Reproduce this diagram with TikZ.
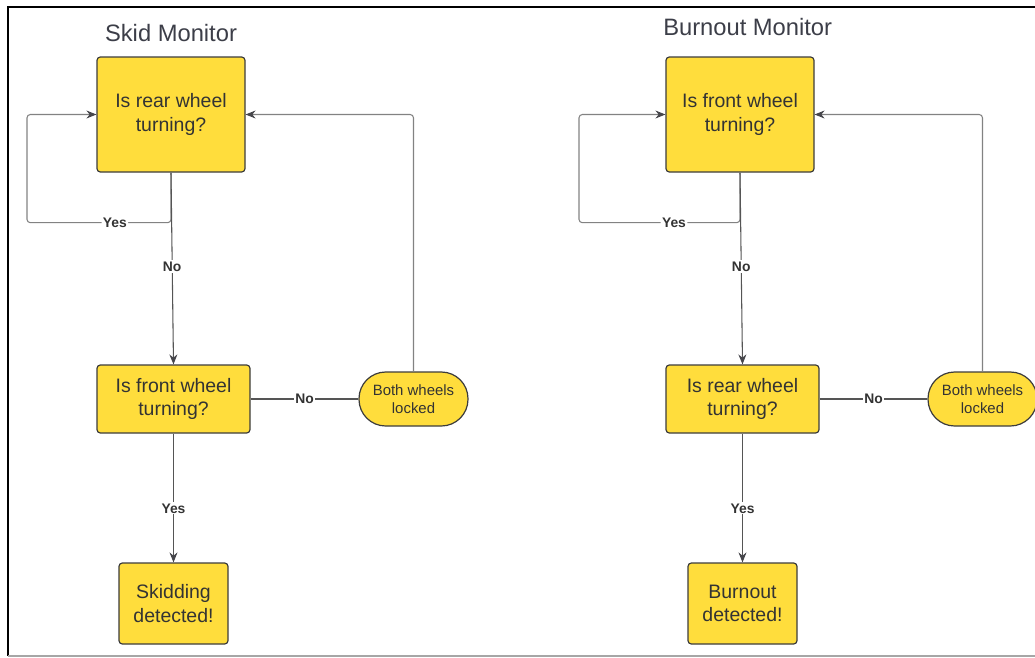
\documentclass[tikz,border=0pt]{standalone}
\usepackage{fontspec}
\setmainfont{Liberation Sans}
\usetikzlibrary{arrows.meta}
\definecolor{boxfill}{RGB}{255,221,60}
\definecolor{boxline}{RGB}{60,60,60}
\definecolor{txt}{RGB}{51,51,51}
\definecolor{conn}{RGB}{85,85,85}
\definecolor{connlight}{RGB}{130,130,130}
\definecolor{arrc}{RGB}{70,70,75}
\definecolor{titlec}{RGB}{60,62,72}
\tikzset{
  box/.style={draw=boxline, fill=boxfill, line width=0.9pt, rounded corners=2.5pt,
    align=center, text=txt, inner sep=0pt, font=\fontsize{14.6}{17.8}\selectfont},
  oval/.style={draw=boxline, fill=boxfill, line width=0.9pt, rounded corners=20pt,
    align=center, text=txt, inner sep=0pt, minimum width=81.75pt, minimum height=40.5pt,
    font=\fontsize{11.2}{13.5}\selectfont},
  title/.style={text=titlec, font=\fontsize{17.8}{20}\selectfont, inner sep=0pt},
  lbl/.style={fill=white, text=txt, inner sep=1pt, font=\bfseries\fontsize{10.4}{12}\selectfont},
  conn/.style={draw=conn, line width=0.8pt},
  connl/.style={draw=connlight, line width=0.8pt, rounded corners=2.5pt},
  arr/.style={-{Stealth[length=7.5pt,width=6pt,color=arrc]}},
}
\begin{document}
\begin{tikzpicture}[x=0.75pt,y=-0.75pt]
\useasboundingbox (0,0) rectangle (1035,657);
% frame
\draw[line width=1.5pt, black] (8,656) -- (8,7) -- (1040,7);
\draw[line width=1.2pt, gray!70] (8,656) -- (1040,656);

% ---------- Skid Monitor ----------
\node[title] (tL) at (171,33) {Skid Monitor};
\node[box, minimum width=111pt, minimum height=86.25pt] (b1L) at (171,114.5) {Is rear wheel\\turning?};
\node[box, minimum width=114.75pt, minimum height=51pt] (b2L) at (173.5,399) {Is front wheel\\turning?};
\node[oval] (oL) at (413.5,399) {Both wheels\\locked};
\node[box, minimum width=81.75pt, minimum height=60.75pt] (b3L) at (173.5,603.5) {Skidding\\detected!};
\coordinate (yL) at (27,222.7);

\draw[connl, arr] (b1L.south) -- (b1L.south |- yL) -- node[lbl, pos=0.39] {Yes} (yL) |- (b1L.west);
\draw[conn, arr] (b1L.south) -- node[lbl, pos=0.49] {No} (b2L.north);
\draw[conn] (b2L.east) -- node[lbl, pos=0.5] {No} (oL.west);
\draw[connl, arr] (oL.north) |- (b1L.east);
\draw[conn, arr] (b2L.south) -- node[lbl, pos=0.58] {Yes} (b3L.north);

% ---------- Burnout Monitor ----------
\node[title] (tR) at (747.7,27) {Burnout Monitor};
\node[box, minimum width=111pt, minimum height=86.25pt] (b1R) at (740,114.5) {Is front wheel\\turning?};
\node[box, minimum width=114.75pt, minimum height=51pt] (b2R) at (742.5,399) {Is rear wheel\\turning?};
\node[oval] (oR) at (982.5,399) {Both wheels\\locked};
\node[box, minimum width=81.75pt, minimum height=60.75pt] (b3R) at (742.5,603.5) {Burnout\\detected!};
\coordinate (yR) at (579,222.7);

\draw[connl, arr] (b1R.south) -- (b1R.south |- yR) -- node[lbl, pos=0.41] {Yes} (yR) |- (b1R.west);
\draw[conn, arr] (b1R.south) -- node[lbl, pos=0.49] {No} (b2R.north);
\draw[conn] (b2R.east) -- node[lbl, pos=0.5] {No} (oR.west);
\draw[connl, arr] (oR.north) |- (b1R.east);
\draw[conn, arr] (b2R.south) -- node[lbl, pos=0.58] {Yes} (b3R.north);
\end{tikzpicture}
\end{document}
